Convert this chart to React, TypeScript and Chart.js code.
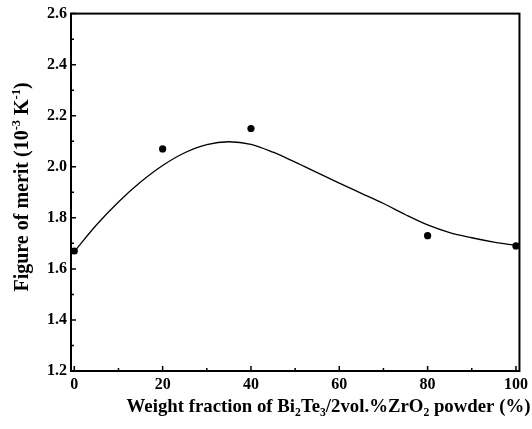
import React, { useEffect, useRef } from "react";
import { Chart, registerables } from "chart.js";
Chart.register(...registerables);

// Measured data points
const measuredX = [0, 20, 40, 80, 100];
const measuredY = [1.67, 2.07, 2.15, 1.73, 1.69];

// Fitted curve
const fitX = [0, 5, 10, 15, 20, 25, 30, 35, 40, 45, 50, 55, 60, 65, 70, 75, 80, 85, 90, 95, 100];
const fitY = [1.668, 1.772, 1.862, 1.94, 2.005, 2.055, 2.087, 2.098, 2.088, 2.057, 2.018, 1.977, 1.936, 1.896, 1.856, 1.812, 1.772, 1.742, 1.722, 1.705, 1.692];

const xTickValues = [0, 20, 40, 60, 80, 100];
const xMinorValues = [10, 30, 50, 70, 90];
const yTickValues = [1.2, 1.4, 1.6, 1.8, 2.0, 2.2, 2.4, 2.6];
const yMinorValues = [1.3, 1.5, 1.7, 1.9, 2.1, 2.3, 2.5];

const xTitleParts = [
  { t: "Weight fraction of Bi" },
  { t: "2", k: "sub" },
  { t: "Te" },
  { t: "3", k: "sub" },
  { t: "/2vol.%ZrO" },
  { t: "2", k: "sub" },
  { t: " powder (%)" },
];
const yTitleParts = [
  { t: "Figure of merit (10" },
  { t: "-3", k: "sup" },
  { t: " K" },
  { t: "-1", k: "sup" },
  { t: ")" },
];

const FONT = '"Liberation Serif", "Times New Roman", serif';

type Part = { t: string; k?: string };

function richWidth(ctx: CanvasRenderingContext2D, parts: Part[], size: number) {
  let w = 0;
  for (const p of parts) {
    const s = p.k ? size * 0.62 : size;
    ctx.font = `bold ${s}px ${FONT}`;
    w += ctx.measureText(p.t).width;
  }
  return w;
}

function drawRich(ctx: CanvasRenderingContext2D, parts: Part[], x: number, baseline: number, size: number) {
  let cx = x;
  ctx.textBaseline = "alphabetic";
  ctx.textAlign = "left";
  for (const p of parts) {
    const s = p.k ? size * 0.62 : size;
    ctx.font = `bold ${s}px ${FONT}`;
    const dy = p.k === "sub" ? size * 0.22 : p.k === "sup" ? -size * 0.4 : 0;
    ctx.fillText(p.t, cx, baseline + dy);
    cx += ctx.measureText(p.t).width;
  }
}

const framePlugin = {
  id: "frame",
  afterDraw(chart: any) {
    const ctx: CanvasRenderingContext2D = chart.ctx;
    const { left, right, top, bottom } = chart.chartArea;
    const xs = chart.scales.x;
    const ys = chart.scales.y;
    ctx.save();
    ctx.strokeStyle = "#000";
    ctx.fillStyle = "#000";
    ctx.lineWidth = 2;
    ctx.strokeRect(left, top, right - left, bottom - top);
    ctx.lineWidth = 1.5;
    ctx.beginPath();
    for (const v of xTickValues) {
      const px = xs.getPixelForValue(v);
      ctx.moveTo(px, bottom);
      ctx.lineTo(px, bottom - 5);
    }
    for (const v of xMinorValues) {
      const px = xs.getPixelForValue(v);
      ctx.moveTo(px, bottom);
      ctx.lineTo(px, bottom - 3);
    }
    for (const v of yTickValues) {
      const py = ys.getPixelForValue(v);
      ctx.moveTo(left, py);
      ctx.lineTo(left + 5, py);
    }
    for (const v of yMinorValues) {
      const py = ys.getPixelForValue(v);
      ctx.moveTo(left, py);
      ctx.lineTo(left + 3, py);
    }
    ctx.stroke();

    // X title
    const xs2 = 18.8;
    const xw = richWidth(ctx, xTitleParts, xs2);
    drawRich(ctx, xTitleParts, 328.5 - xw / 2, 412, xs2);

    // Y title
    const ysz = 20;
    const yw = richWidth(ctx, yTitleParts, ysz);
    ctx.translate(28, 187);
    ctx.rotate(-Math.PI / 2);
    drawRich(ctx, yTitleParts, -yw / 2, 0, ysz);
    ctx.restore();
  },
};

export default function App() {
  const ref = useRef<HTMLCanvasElement | null>(null);
  useEffect(() => {
    if (!ref.current) return;
    const chart = new Chart(ref.current, {
      type: "scatter",
      data: {
        datasets: [
          {
            data: fitX.map((x, i) => ({ x, y: fitY[i] })),
            showLine: true,
            borderColor: "#000",
            borderWidth: 1.3,
            pointRadius: 0,
            cubicInterpolationMode: "monotone",
            fill: false,
          },
          {
            data: measuredX.map((x, i) => ({ x, y: measuredY[i] })),
            showLine: false,
            pointRadius: 3.6,
            pointBackgroundColor: "#000",
            pointBorderColor: "#000",
            pointBorderWidth: 0,
          },
        ],
      },
      options: {
        animation: false,
        responsive: true,
        maintainAspectRatio: false,
        devicePixelRatio: 1,
        layout: { padding: { left: 0, top: 12.5, right: 9.5, bottom: 0 } },
        plugins: { legend: { display: false }, tooltip: { enabled: false }, title: { display: false } },
        scales: {
          x: {
            type: "linear",
            min: -0.75,
            max: 100.8,
            grid: { display: false, drawTicks: false },
            border: { display: false },
            afterBuildTicks: (s: any) => {
              s.ticks = xTickValues.map((v) => ({ value: v }));
            },
            afterFit: (s: any) => {
              s.height = 58;
            },
            ticks: {
              padding: 4,
              color: "#000",
              maxRotation: 0,
              autoSkip: false,
              font: { family: FONT, size: 16, weight: "bold" },
              callback: (v: any) => String(v),
            },
          },
          y: {
            type: "linear",
            min: 1.2,
            max: 2.6,
            grid: { display: false, drawTicks: false },
            border: { display: false },
            afterBuildTicks: (s: any) => {
              s.ticks = yTickValues.map((v) => ({ value: v }));
            },
            afterFit: (s: any) => {
              s.width = 71;
            },
            ticks: {
              padding: 4,
              color: "#000",
              autoSkip: false,
              font: { family: FONT, size: 16, weight: "bold" },
              callback: (v: any) => Number(v).toFixed(1),
            },
          },
        },
      },
      plugins: [framePlugin],
    } as any);
    return () => chart.destroy();
  }, []);
  return (
    <div style={{ position: "fixed", left: 0, top: 0, width: 532, height: 429, background: "#fff" }}>
      <canvas ref={ref} />
    </div>
  );
}
